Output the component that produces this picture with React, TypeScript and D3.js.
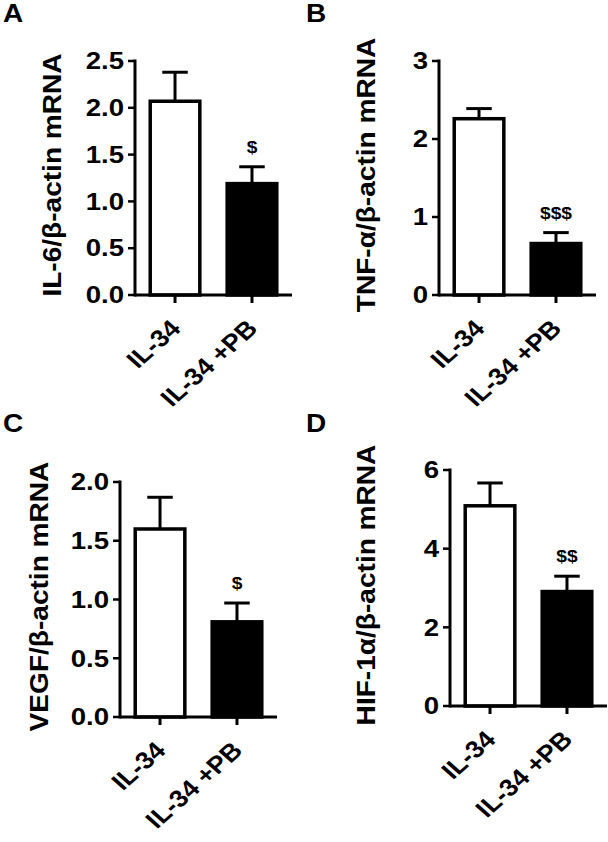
import React, { useEffect, useRef } from "react";
import * as d3 from "d3";

// groups on the x axis
const categories = ["IL-34", "IL-34 +PB"];

// mean and SEM (upper error bar) per panel
const il6Mean = [2.07, 1.19];
const il6Sem = [0.31, 0.18];
const tnfMean = [2.26, 0.66];
const tnfSem = [0.13, 0.14];
const vegfMean = [1.6, 0.81];
const vegfSem = [0.27, 0.16];
const hifMean = [5.09, 2.91];
const hifSem = [0.58, 0.39];

// y axis ticks
const il6Ticks = [0, 0.5, 1, 1.5, 2, 2.5];
const tnfTicks = [0, 1, 2, 3];
const vegfTicks = [0, 0.5, 1, 1.5, 2];
const hifTicks = [0, 2, 4, 6];

const panelLetters = ["A", "B", "C", "D"];
const yLabels = [
  "IL-6/β-actin mRNA",
  "TNF-α/β-actin mRNA",
  "VEGF/β-actin mRNA",
  "HIF-1α/β-actin mRNA",
];
const signif = ["$", "$$$", "$", "$$"];

const FONT = "'Liberation Sans', Arial, Helvetica, sans-serif";

const App = () => {
  const svgRef = useRef<SVGSVGElement>(null);

  useEffect(() => {
    const width = 608;
    const height = 842;
    const svg = d3.select(svgRef.current).attr("width", width).attr("height", height);
    svg.selectAll("*").remove();

    svg.append("rect").attr("width", width).attr("height", height).attr("fill", "#fff");

    // panel layout: axis origin, top of y axis, letter position
    const panels = [
      { mean: il6Mean, sem: il6Sem, ticks: il6Ticks, fmt: d3.format(".1f"), x0: 135, y0: 295, yTop: 61, labX: 52, lx: 3, ly: 22 },
      { mean: tnfMean, sem: tnfSem, ticks: tnfTicks, fmt: d3.format("d"), x0: 439, y0: 295, yTop: 61, labX: 366, lx: 306, ly: 22 },
      { mean: vegfMean, sem: vegfSem, ticks: vegfTicks, fmt: d3.format(".1f"), x0: 120, y0: 717, yTop: 482, labX: 39, lx: 3, ly: 432 },
      { mean: hifMean, sem: hifSem, ticks: hifTicks, fmt: d3.format("d"), x0: 450, y0: 706, yTop: 470, labX: 366, lx: 306, ly: 432 },
    ];
    const plotW = 157;
    const axisW = 3;
    const barW = 3.5;

    panels.forEach((p, i) => {
      const g = svg.append("g").attr("font-family", FONT).attr("font-weight", "bold");

      const y = d3
        .scaleLinear()
        .domain([0, d3.max(p.ticks) as number])
        .range([p.y0, p.yTop]);
      const x = d3
        .scaleBand()
        .domain(categories)
        .range([p.x0, p.x0 + plotW])
        .paddingInner(0.31)
        .paddingOuter(0.175);

      // panel letter
      g.append("text")
        .attr("transform", `translate(${p.lx},${p.ly}) scale(1.12,1)`)
        .attr("font-size", 25)
        .text(panelLetters[i]);

      // bars
      categories.forEach((c, j) => {
        const bx = x(c) as number;
        const bw = x.bandwidth();
        const cx = bx + bw / 2;
        const top = y(p.mean[j]);
        const errTop = y(p.mean[j] + p.sem[j]);

        // error bar (upper only)
        g.append("line")
          .attr("x1", cx).attr("x2", cx)
          .attr("y1", top).attr("y2", errTop)
          .attr("stroke", "#000").attr("stroke-width", 3);
        g.append("line")
          .attr("x1", cx - bw * 0.24).attr("x2", cx + bw * 0.24)
          .attr("y1", errTop).attr("y2", errTop)
          .attr("stroke", "#000").attr("stroke-width", 3);

        g.append("rect")
          .attr("x", bx + barW / 2)
          .attr("y", top)
          .attr("width", bw - barW)
          .attr("height", p.y0 - top)
          .attr("fill", j === 0 ? "#fff" : "#000")
          .attr("stroke", "#000")
          .attr("stroke-width", barW);

        // x tick
        g.append("line")
          .attr("x1", cx).attr("x2", cx)
          .attr("y1", p.y0).attr("y2", p.y0 + 8)
          .attr("stroke", "#000").attr("stroke-width", axisW);

        // rotated category label
        g.append("text")
          .attr("transform", `translate(${cx + 7},${p.y0 + 35}) scale(1.12,1) rotate(-45)`)
          .attr("text-anchor", "end")
          .attr("font-size", 24)
          .text(c);

        if (j === 1) {
          g.append("text")
            .attr("transform", `translate(${cx},${errTop - 14}) scale(1.2,1)`)
            .attr("text-anchor", "middle")
            .attr("font-size", 16)
            .text(signif[i]);
        }
      });

      // axes
      g.append("line")
        .attr("x1", p.x0).attr("x2", p.x0 + plotW)
        .attr("y1", p.y0).attr("y2", p.y0)
        .attr("stroke", "#000").attr("stroke-width", axisW);
      g.append("line")
        .attr("x1", p.x0).attr("x2", p.x0)
        .attr("y1", p.yTop - 1.5).attr("y2", p.y0 + 1.5)
        .attr("stroke", "#000").attr("stroke-width", axisW);

      p.ticks.forEach((t) => {
        g.append("line")
          .attr("x1", p.x0 - 7).attr("x2", p.x0)
          .attr("y1", y(t)).attr("y2", y(t))
          .attr("stroke", "#000").attr("stroke-width", 2.5);
        g.append("text")
          .attr("transform", `translate(${p.x0 - 11},${y(t)}) scale(1.2,1)`)
          .attr("text-anchor", "end")
          .attr("dy", "0.36em")
          .attr("font-size", 23)
          .text(p.fmt(t));
      });

      // y axis title
      g.append("text")
        .attr("transform", `translate(${p.labX},${(p.y0 + p.yTop) / 2 - 3}) rotate(-90) scale(1.08,1)`)
        .attr("text-anchor", "middle")
        .attr("dominant-baseline", "central")
        .attr("font-size", 26)
        .text(yLabels[i]);
    });
  }, []);

  return (
    <div style={{ position: "absolute", left: 0, top: 0 }}>
      <svg ref={svgRef} style={{ display: "block" }}></svg>
    </div>
  );
};

export default App;
